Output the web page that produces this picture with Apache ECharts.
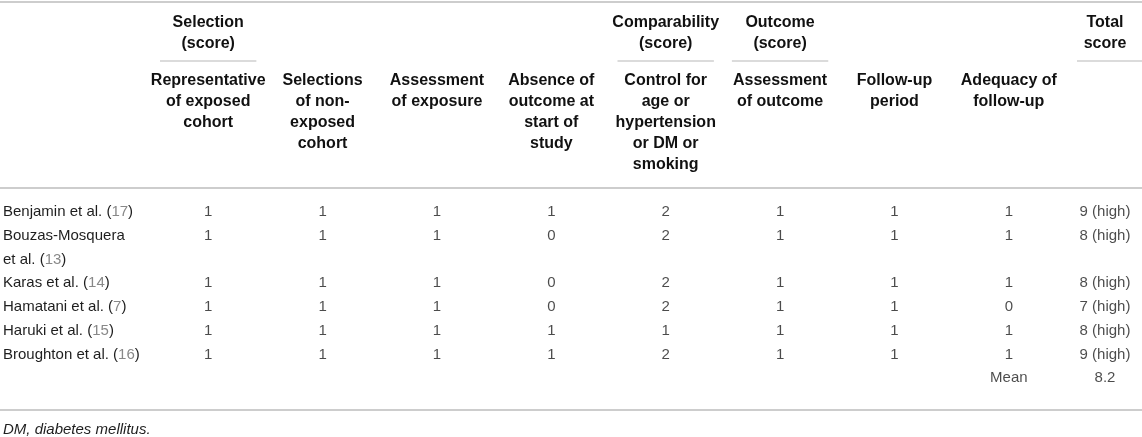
<!DOCTYPE html>
<html><head><meta charset="utf-8">
<script src="https://cdn.jsdelivr.net/npm/echarts@6/dist/echarts.min.js"></script>
<style>html,body{margin:0;padding:0;background:#fff}#c{width:1142px;height:437px}</style>
</head><body><div id="c"></div>
<script>
// ---------- data ----------
const criteria = [
  'Representative\nof exposed\ncohort',
  'Selections\nof non-\nexposed\ncohort',
  'Assessment\nof exposure',
  'Absence of\noutcome at\nstart of\nstudy',
  'Control for\nage or\nhypertension\nor DM or\nsmoking',
  'Assessment\nof outcome',
  'Follow-up\nperiod',
  'Adequacy of\nfollow-up'
];
const criterionGroup = [
  'Selection\n(score)', 'Selection\n(score)', 'Selection\n(score)', 'Selection\n(score)',
  'Comparability\n(score)',
  'Outcome\n(score)', 'Outcome\n(score)', 'Outcome\n(score)'
];
const totalHeader = 'Total\nscore';
const studies = ['Benjamin et al.', 'Bouzas-Mosquera et al.', 'Karas et al.', 'Hamatani et al.', 'Haruki et al.', 'Broughton et al.'];
const refs = [17, 13, 14, 7, 15, 16];
const representative = [1, 1, 1, 1, 1, 1];
const nonExposed     = [1, 1, 1, 1, 1, 1];
const exposure       = [1, 1, 1, 1, 1, 1];
const absence        = [1, 0, 0, 0, 1, 1];
const control        = [2, 2, 2, 2, 1, 2];
const outcomeAssess  = [1, 1, 1, 1, 1, 1];
const followUp       = [1, 1, 1, 1, 1, 1];
const adequacy       = [1, 1, 1, 0, 1, 1];
const totals  = [9, 8, 8, 7, 8, 9];
const quality = ['high', 'high', 'high', 'high', 'high', 'high'];
const meanLabel = 'Mean';
const meanTotal = 8.2;
const footnote = 'DM, diabetes mellitus.';

// ---------- build ----------
const FONT = "'Liberation Sans', Arial, Helvetica, sans-serif";
const FS = 15;
const HFS = 16;
const scores = [representative, nonExposed, exposure, absence, control, outcomeAssess, followUp, adequacy];

const mctx = document.createElement('canvas').getContext('2d');
mctx.font = FS + 'px ' + FONT;
function wrapStudy(name, ref) {
  const sur = name.replace(/ et al\.$/, '');
  const tail = 'et al. (' + ref + ')';
  const full = sur + ' ' + tail;
  if (mctx.measureText(full).width <= 142) return [full];
  return [sur, tail];
}
const rowLines = [];
const studyRow = [];
studies.forEach((s, i) => {
  studyRow.push(rowLines.length);
  wrapStudy(s, refs[i]).forEach(l => rowLines.push(l));
});
const meanRow = rowLines.length;
rowLines.push(' ');

const cellData = [];
scores.forEach((col, c) => {
  col.forEach((v, s) => cellData.push({ name: String(v), value: [criteria[c], rowLines[studyRow[s]]] }));
});
cellData.push({ name: meanLabel, value: [criteria[criteria.length - 1], rowLines[meanRow]] });

const totalData = totals.map((t, s) => ({ name: t + ' (' + quality[s] + ')', value: [totalHeader, rowLines[studyRow[s]]] }));
totalData.push({ name: String(meanTotal), value: [totalHeader, rowLines[meanRow]] });

const chart = echarts.init(document.getElementById('c'), null, { renderer: 'canvas' });
const hidden = { axisLine: { show: false }, axisTick: { show: false }, splitLine: { show: false } };
const cellLabel = { show: true, position: 'inside', formatter: '{b}', fontSize: FS, fontFamily: FONT, color: '#1e1e1e' };
const headStyle = { fontWeight: 'bold', fontSize: HFS, fontFamily: FONT, color: '#111', lineHeight: 21, verticalAlign: 'top', align: 'center' };

chart.setOption({
  animation: false,
  backgroundColor: '#fff',
  grid: [
    { left: 151, top: 200, width: 915, height: 190, containLabel: false, outerBoundsMode: 'none' },
    { left: 1068, top: 200, width: 74, height: 190, containLabel: false, outerBoundsMode: 'none' }
  ],
  xAxis: [
    Object.assign({ gridIndex: 0, type: 'category', data: criteria, position: 'top',
      axisLabel: Object.assign({ interval: 0, margin: 129.5 }, headStyle) }, hidden),
    Object.assign({ gridIndex: 0, type: 'category', data: criteria, position: 'top',
      axisLabel: Object.assign({ interval: 0, margin: 187.5,
        formatter: (v, i) => (i === 0 || criterionGroup[i] !== criterionGroup[i - 1]) ? criterionGroup[i] : '' }, headStyle) }, hidden),
    Object.assign({ gridIndex: 1, type: 'category', data: [totalHeader], position: 'top',
      axisLabel: Object.assign({ interval: 0, margin: 187.5 }, headStyle) }, hidden)
  ],
  yAxis: [
    Object.assign({ gridIndex: 0, type: 'category', data: rowLines, inverse: true,
      axisLabel: { interval: 0, align: 'left', margin: 148, fontSize: FS, fontFamily: FONT, color: '#1e1e1e',
        formatter: v => v.replace(/\((\d+)\)/, '({ref|$1})'),
        rich: { ref: { fontSize: FS, fontFamily: FONT, color: '#888' } } } }, hidden),
    Object.assign({ gridIndex: 1, type: 'category', data: rowLines, inverse: true, axisLabel: { show: false } }, hidden)
  ],
  series: [
    { type: 'scatter', xAxisIndex: 0, yAxisIndex: 0, symbolSize: 1, itemStyle: { color: 'rgba(0,0,0,0)' }, silent: true,
      label: cellLabel, data: cellData },
    { type: 'scatter', xAxisIndex: 2, yAxisIndex: 1, symbolSize: 1, itemStyle: { color: 'rgba(0,0,0,0)' }, silent: true,
      label: cellLabel, data: totalData }
  ]
});

// rules and group underlines, positioned from the axes
const W = 1142;
const bandW = chart.convertToPixel({ xAxisIndex: 0 }, criteria[1]) - chart.convertToPixel({ xAxisIndex: 0 }, criteria[0]);
const rule = { stroke: '#bdbdbd', lineWidth: 1.5 };
const under = { stroke: '#cfcfcf', lineWidth: 1.5 };
const gfx = [
  { type: 'line', shape: { x1: 0, y1: 2, x2: W, y2: 2 }, style: rule },
  { type: 'line', shape: { x1: 0, y1: 188, x2: W, y2: 188 }, style: rule },
  { type: 'line', shape: { x1: 0, y1: 410, x2: W, y2: 410 }, style: rule },
  { type: 'text', left: 3, top: 422, style: { text: footnote, font: 'italic ' + FS + 'px ' + FONT, fill: '#1e1e1e' } }
];
criteria.forEach((c, i) => {
  if (i === 0 || criterionGroup[i] !== criterionGroup[i - 1]) {
    const cx = chart.convertToPixel({ xAxisIndex: 0 }, c);
    gfx.push({ type: 'line', shape: { x1: cx - bandW / 2 + 9, y1: 61, x2: cx + bandW / 2 - 9, y2: 61 }, style: under });
  }
});
const tx = chart.convertToPixel({ xAxisIndex: 2 }, totalHeader);
gfx.push({ type: 'line', shape: { x1: tx - 74 / 2 + 9, y1: 61, x2: W, y2: 61 }, style: under });
chart.setOption({ graphic: gfx });
</script>
</body></html>
